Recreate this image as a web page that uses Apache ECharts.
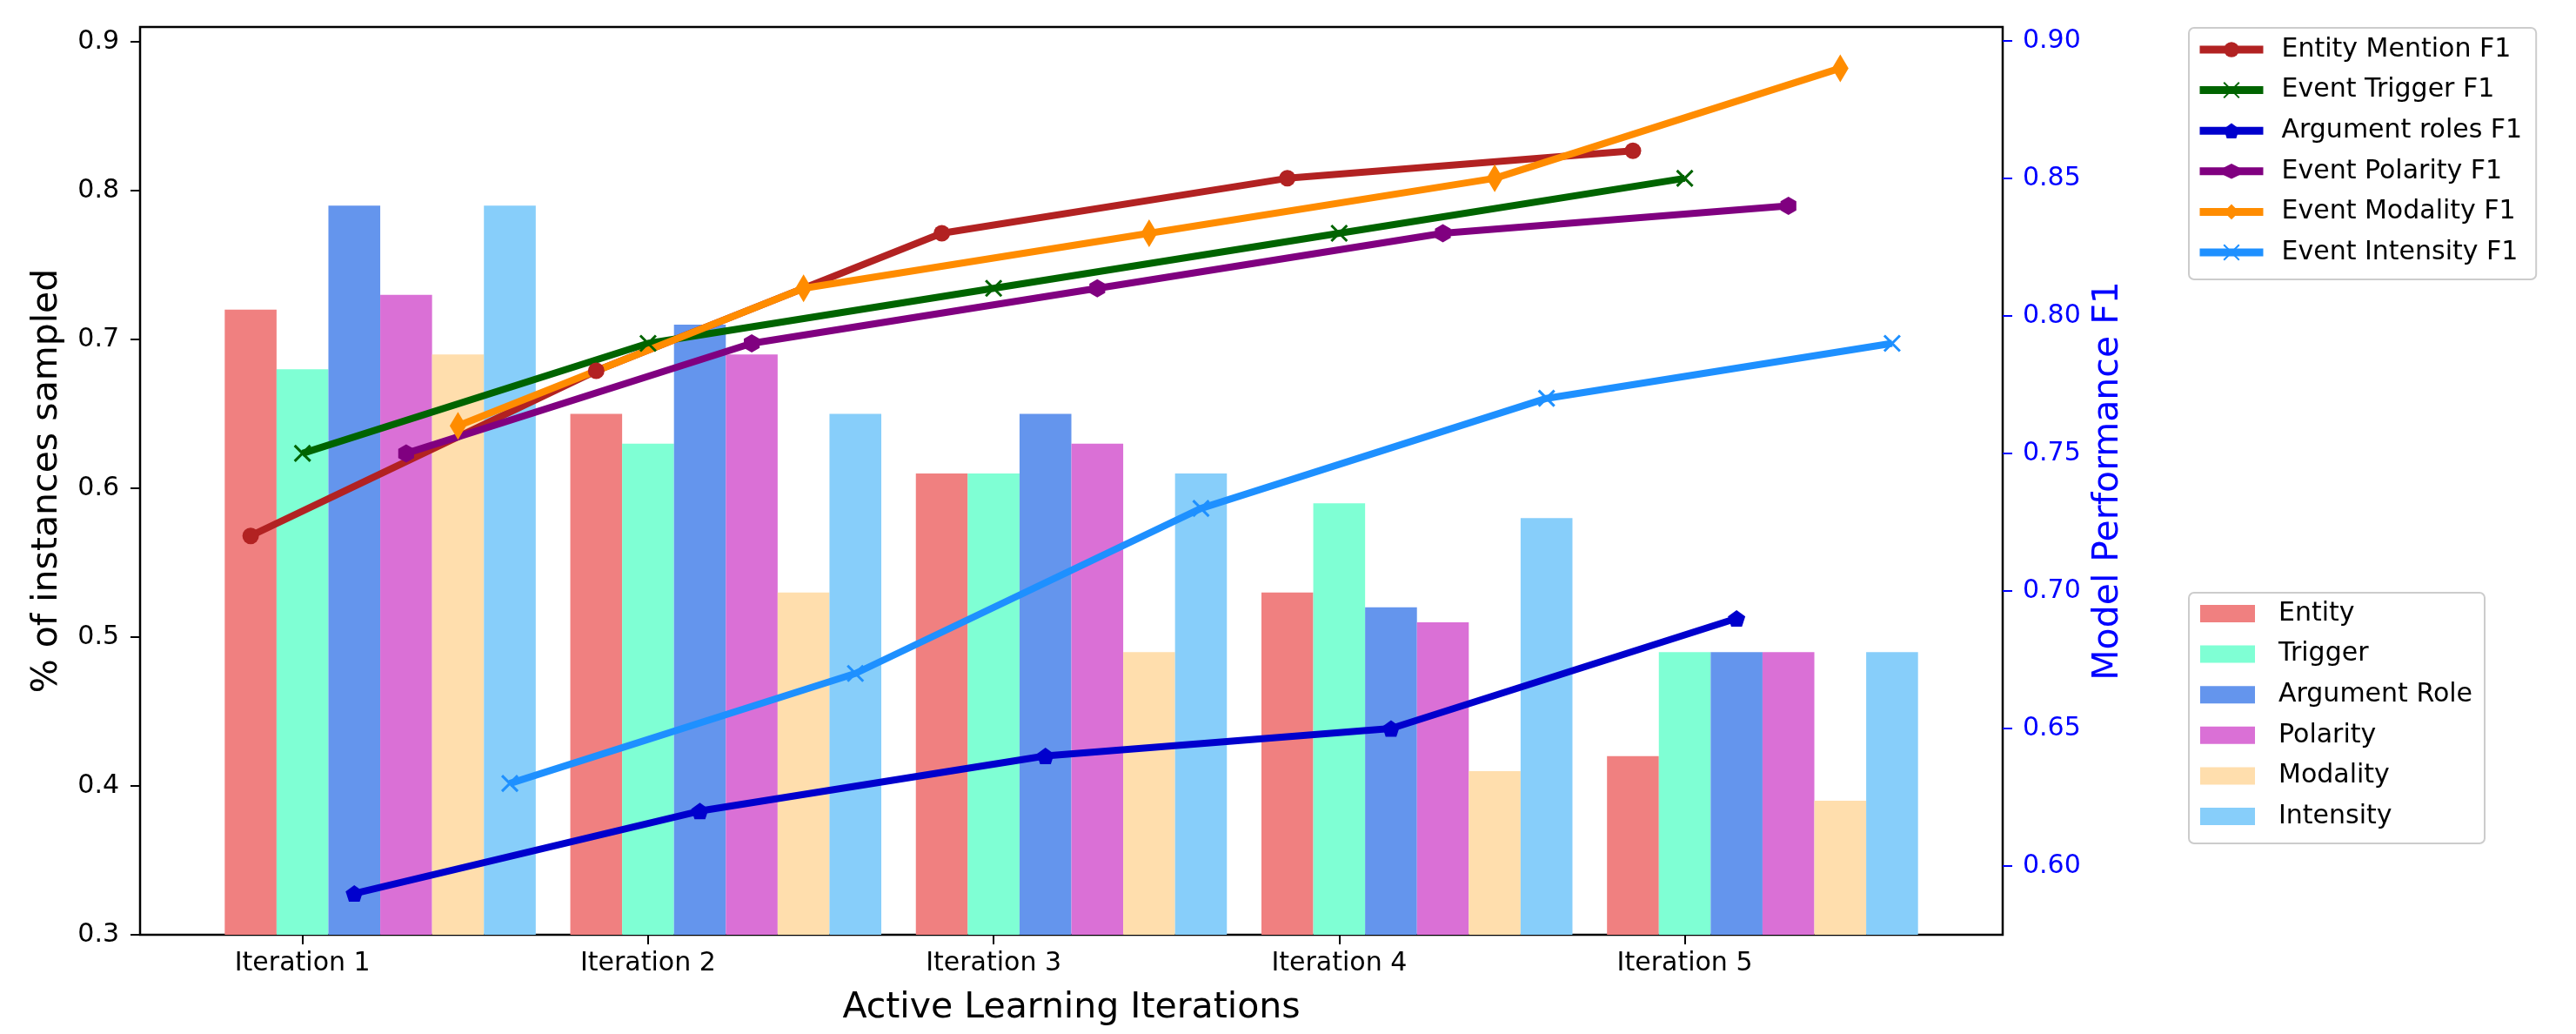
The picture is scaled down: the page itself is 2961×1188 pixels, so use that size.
<!DOCTYPE html>
<html>
<head>
<meta charset="utf-8">
<script src="https://cdn.jsdelivr.net/npm/echarts@6/dist/echarts.min.js"></script>
<style>
  html, body { margin: 0; padding: 0; background: #fff; }
  #chart { width: 2961px; height: 1188px; }
</style>
</head>
<body>
<div id="chart"></div>
<script>
// Active learning iterations
const iterations = ['Iteration 1', 'Iteration 2', 'Iteration 3', 'Iteration 4', 'Iteration 5'];

// Share of instances sampled per task (left axis, bars)
const entitySampled    = [0.72, 0.65, 0.61, 0.53, 0.42];
const triggerSampled   = [0.68, 0.63, 0.61, 0.59, 0.49];
const argumentSampled  = [0.79, 0.71, 0.65, 0.52, 0.49];
const polaritySampled  = [0.73, 0.69, 0.63, 0.51, 0.49];
const modalitySampled  = [0.69, 0.53, 0.49, 0.41, 0.39];
const intensitySampled = [0.79, 0.65, 0.61, 0.58, 0.49];

// Model performance per task (right axis, lines)
const entityF1    = [0.72, 0.78, 0.83, 0.85, 0.86];
const triggerF1   = [0.75, 0.79, 0.81, 0.83, 0.85];
const argumentF1  = [0.59, 0.62, 0.64, 0.65, 0.69];
const polarityF1  = [0.75, 0.79, 0.81, 0.83, 0.84];
const modalityF1  = [0.76, 0.81, 0.83, 0.85, 0.89];
const intensityF1 = [0.63, 0.67, 0.73, 0.77, 0.79];

// Tick labels
const leftTicks  = [0.3, 0.4, 0.5, 0.6, 0.7, 0.8, 0.9];
const rightTicks = [0.60, 0.65, 0.70, 0.75, 0.80, 0.85, 0.90];

const FONT = 'DejaVu Sans';

// Bar slot layout: six bars per iteration, the tick sits on the second bar
const barStep = 0.15;
const slotOffset = k => (k - 1) * barStep;
const dataLo = -1.5 * barStep;
const dataHi = (iterations.length - 1) + 4.5 * barStep;
const pad = 0.05 * (dataHi - dataLo);
const xMin = dataLo - pad;
const xMax = dataHi + pad;

const grid = { left: 161, right: 659, top: 31, bottom: 114 };
const plotWidth = 2961 - grid.left - grid.right;
const barPx = plotWidth * barStep / (xMax - xMin);

const barDefs = [
  { name: 'Entity',        values: entitySampled,    color: '#F08080' },
  { name: 'Trigger',       values: triggerSampled,   color: '#7FFFD4' },
  { name: 'Argument Role', values: argumentSampled,  color: '#6495ED' },
  { name: 'Polarity',      values: polaritySampled,  color: '#DA70D6' },
  { name: 'Modality',      values: modalitySampled,  color: '#FFDEAD' },
  { name: 'Intensity',     values: intensitySampled, color: '#87CEFA' }
];

const CROSS = 'path://M-1,-1 L1,1 M1,-1 L-1,1';
const PENTAGON = 'path://M0,-1 L0.951,-0.309 L0.588,0.809 L-0.588,0.809 L-0.951,-0.309 Z';
const HEXAGON = 'path://M0,-1 L0.866,-0.5 L0.866,0.5 L0,1 L-0.866,0.5 L-0.866,-0.5 Z';
const THIN_DIAMOND = 'path://M0,-1 L0.6,0 L0,1 L-0.6,0 Z';

const lineDefs = [
  { name: 'Entity Mention F1',   values: entityF1,    color: '#B22222', symbol: 'circle',     size: 19 },
  { name: 'Event Trigger F1',    values: triggerF1,   color: '#006400', symbol: CROSS,        size: 18, cross: true },
  { name: 'Argument roles F1',   values: argumentF1,  color: '#0000CD', symbol: PENTAGON,     size: 20 },
  { name: 'Event Polarity F1',   values: polarityF1,  color: '#800080', symbol: HEXAGON,      size: 21 },
  { name: 'Event Modality F1',   values: modalityF1,  color: '#FF8C00', symbol: THIN_DIAMOND, size: [19, 32] },
  { name: 'Event Intensity F1',  values: intensityF1, color: '#1E90FF', symbol: CROSS,        size: 18, cross: true }
];

const series = [];

barDefs.forEach((d, k) => {
  series.push({
    name: d.name,
    type: 'bar',
    xAxisIndex: 0,
    yAxisIndex: 0,
    barWidth: barPx,
    barGap: '-100%',
    itemStyle: { color: d.color },
    data: d.values.map((v, i) => [i + slotOffset(k), v]),
    z: 2
  });
});

lineDefs.forEach((d, k) => {
  series.push({
    name: d.name,
    type: 'line',
    xAxisIndex: 0,
    yAxisIndex: 1,
    symbol: d.symbol,
    symbolSize: d.size,
    symbolKeepAspect: !Array.isArray(d.size),
    showSymbol: true,
    lineStyle: { color: d.color, width: 8 },
    itemStyle: d.cross
      ? { color: d.color, borderColor: d.color, borderWidth: 3 }
      : { color: d.color, borderWidth: 0 },
    data: d.values.map((v, i) => [i + slotOffset(k), v]),
    z: 5,
    clip: false
  });
});

const legendText = {
  fontFamily: FONT,
  fontSize: 30,
  color: '#000',
  lineHeight: 34
};

const option = {
  animation: false,
  backgroundColor: '#fff',
  grid: Object.assign({ show: true, borderColor: '#000', borderWidth: 2.5, backgroundColor: 'transparent' }, grid),
  xAxis: {
    type: 'value',
    min: xMin,
    max: xMax,
    axisLine: { show: false, onZero: false },
    splitLine: { show: false },
    axisTick: {
      show: true,
      customValues: iterations.map((_, i) => i),
      length: 11,
      lineStyle: { color: '#000', width: 2 }
    },
    axisLabel: {
      customValues: iterations.map((_, i) => i),
      formatter: v => iterations[Math.round(v)] || '',
      fontFamily: FONT,
      fontSize: 30,
      color: '#000',
      margin: 18
    },
    name: 'Active Learning Iterations',
    nameLocation: 'middle',
    nameGap: 64,
    nameTextStyle: { fontFamily: FONT, fontSize: 41, color: '#000' }
  },
  yAxis: [
    {
      type: 'value',
      position: 'left',
      min: 0.3,
      max: 0.91,
      axisLine: { show: false, onZero: false },
      splitLine: { show: false },
      axisTick: {
        show: true,
        customValues: leftTicks,
        length: 11,
        lineStyle: { color: '#000', width: 2 }
      },
      axisLabel: {
        customValues: leftTicks,
        formatter: v => v.toFixed(1),
        fontFamily: FONT,
        fontSize: 30,
        color: '#000',
        margin: 24
      },
      name: '% of instances sampled',
      nameLocation: 'middle',
      nameGap: 86,
      nameTextStyle: { fontFamily: FONT, fontSize: 41, color: '#000' }
    },
    {
      type: 'value',
      position: 'right',
      min: 0.575,
      max: 0.905,
      axisLine: { show: false, onZero: false },
      splitLine: { show: false },
      axisTick: {
        show: true,
        customValues: rightTicks,
        length: 11,
        lineStyle: { color: '#0000FF', width: 2 }
      },
      axisLabel: {
        customValues: rightTicks,
        formatter: v => v.toFixed(2),
        fontFamily: FONT,
        fontSize: 30,
        color: '#0000FF',
        margin: 23
      },
      name: 'Model Performance F1',
      nameLocation: 'middle',
      nameGap: 99,
      nameTextStyle: { fontFamily: FONT, fontSize: 41, color: '#0000FF' }
    }
  ],
  legend: [
    {
      data: lineDefs.map(d => d.name),
      orient: 'vertical',
      left: 2516,
      top: 32,
      padding: [8, 16, 14, 8],
      itemWidth: 73,
      itemHeight: 22,
      itemGap: 12.6,
      lineStyle: { width: 9 },
      textStyle: Object.assign({ padding: [0, 0, 0, 16] }, legendText),
      borderColor: '#cccccc',
      borderWidth: 2,
      borderRadius: 6,
      backgroundColor: '#fff'
    },
    {
      data: barDefs.map(d => d.name),
      orient: 'vertical',
      left: 2516,
      top: 681,
      padding: [7, 14, 14, 13],
      itemWidth: 63,
      itemHeight: 20,
      itemGap: 12.6,
      icon: 'rect',
      textStyle: Object.assign({ padding: [0, 0, 0, 22] }, legendText),
      borderColor: '#cccccc',
      borderWidth: 2,
      borderRadius: 6,
      backgroundColor: '#fff'
    }
  ],
  series: series
};

const chart = echarts.init(document.getElementById('chart'), null, { renderer: 'canvas' });
chart.setOption(option);
</script>
</body>
</html>
